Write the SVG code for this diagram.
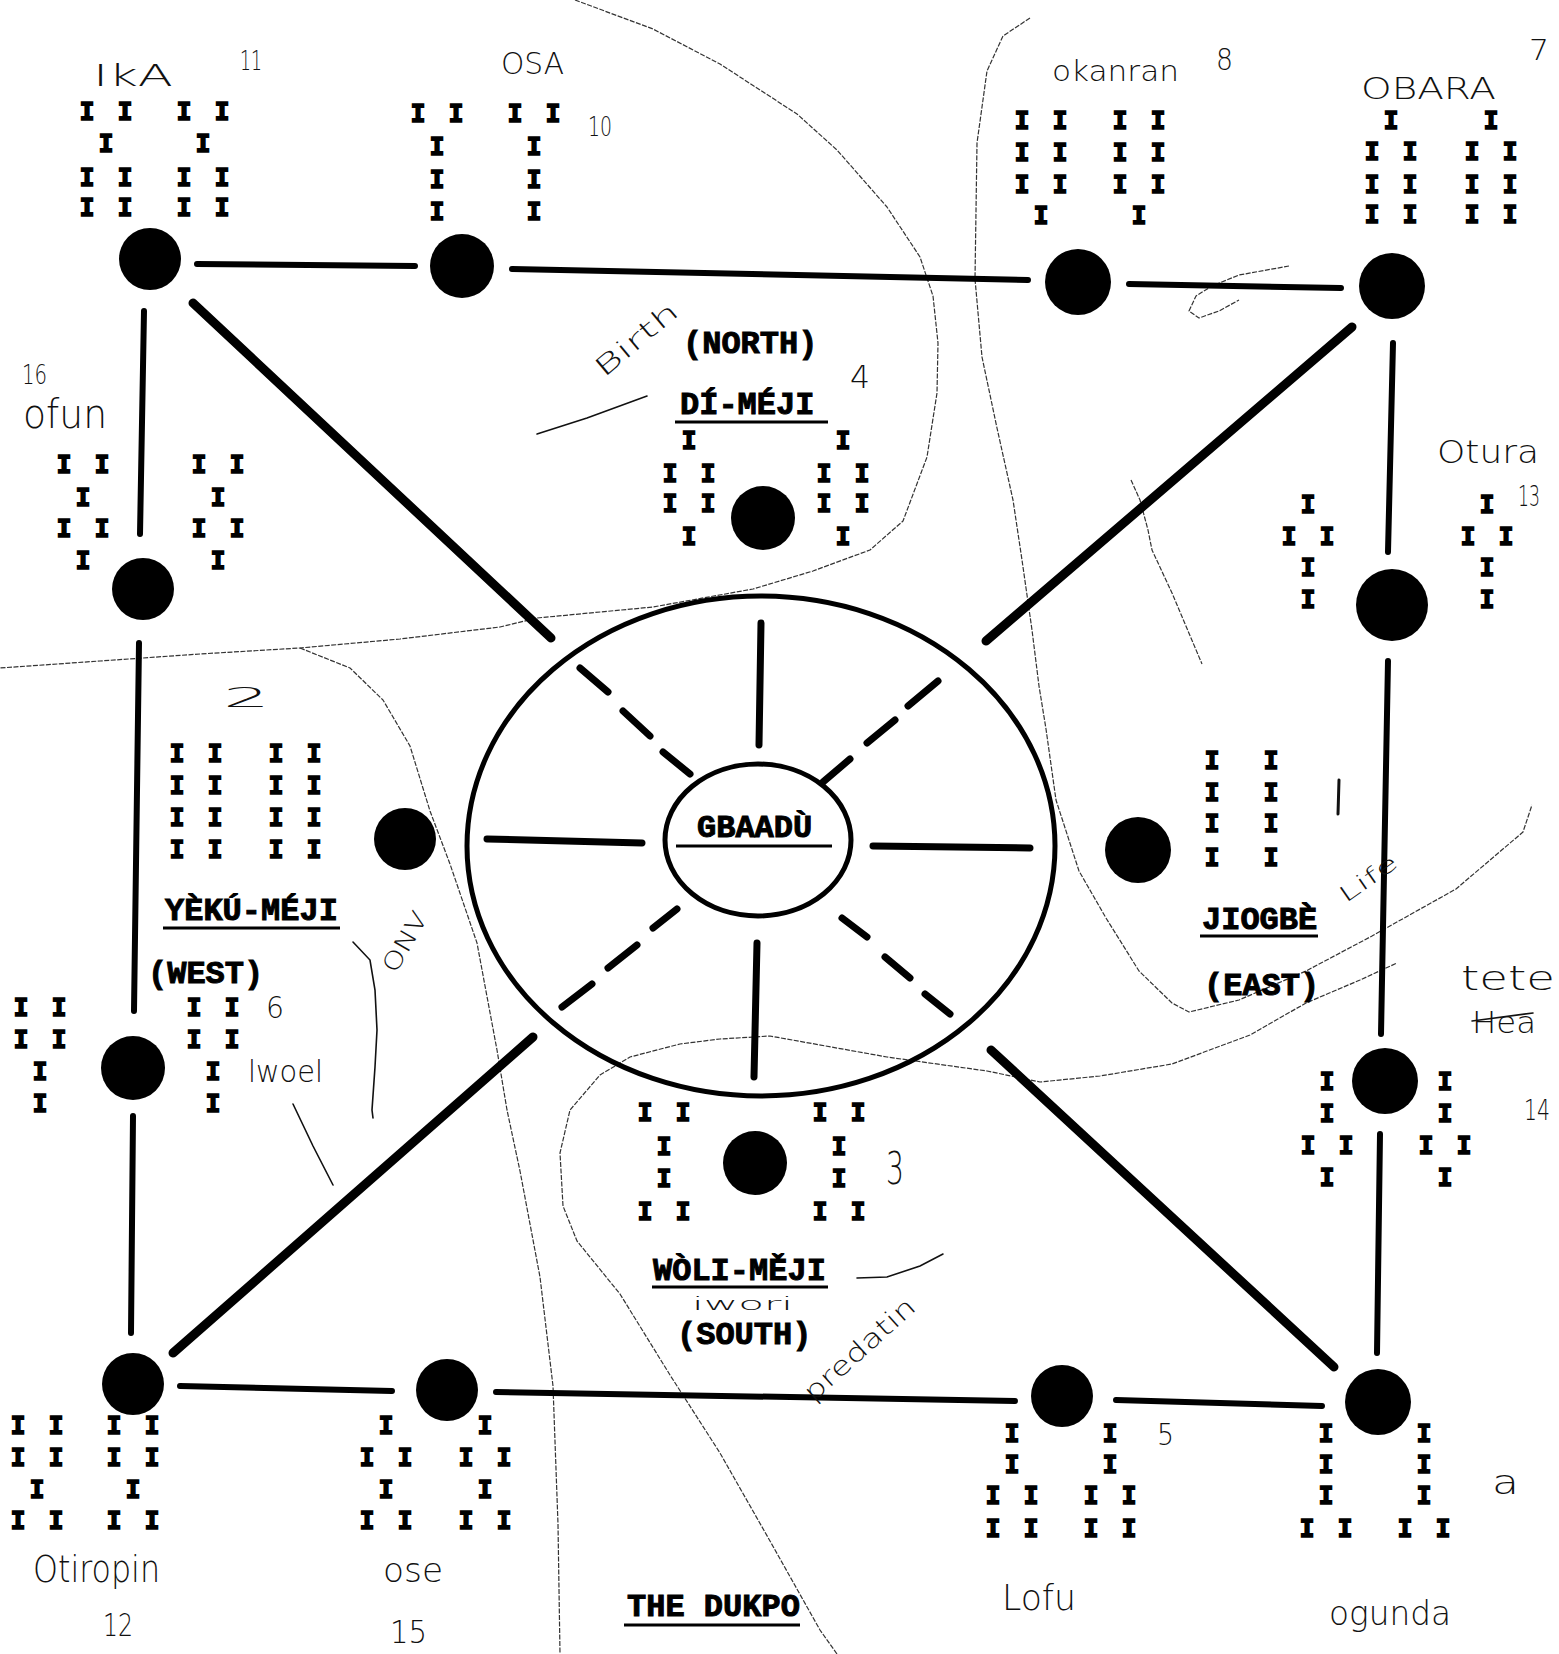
<svg xmlns="http://www.w3.org/2000/svg" width="1559" height="1654" viewBox="0 0 1559 1654">
<style>
.d{fill:#000}
.c{stroke:#000;stroke-linecap:round;fill:none}
.p{stroke-width:6}
.g{stroke-width:9}
.s{stroke-width:7}
.e{fill:none;stroke:#000;stroke-width:5}
.t{font-family:"Liberation Mono","DejaVu Sans Mono",monospace;font-weight:bold;font-size:32px;fill:#000;stroke:#000;stroke-width:1}
.i{font-family:"DejaVu Sans Mono","Liberation Mono",monospace;font-weight:bold;font-size:25px;letter-spacing:4px;fill:#000;stroke:#000;stroke-width:1.6;text-anchor:middle}
.u{stroke:#000;stroke-width:3}
.h{font-family:"DejaVu Sans","Liberation Sans",sans-serif;font-weight:200;fill:#111}
.f{fill:none;stroke:#333;stroke-width:1.2;stroke-dasharray:5 1.5;stroke-linejoin:round}
.k{fill:none;stroke:#111;stroke-width:1.6;stroke-linecap:round}
</style>
<rect width="1559" height="1654" fill="#fff"/>

<g id="hand-curves">
<polyline class="f" points="575,0 653,29 720,64 797,114 837,150 887,207 920,257 933,296 938,343 937,393 927,457 903,521 870,550 813,571 753,589 653,607 537,618 500,627 400,639 300,648 200,654 100,661 0,668"/>
<polyline class="f" points="300,648 350,668 383,700 410,746 430,811 450,864 477,943 497,1050 507,1110 520,1171 540,1277 553,1386 558,1524 560,1654"/>
<polyline class="f" points="1030,18 1003,36 987,71 977,143 975,279 982,357 997,428 1013,500 1022,560 1032,630 1039,686 1046,729 1056,800 1079,871 1106,918 1139,971 1172,1003 1189,1012 1239,1000 1306,971 1372,936 1456,889 1523,832 1532,805"/>
<polyline class="f" points="837,1654 820,1630 770,1541 720,1453 670,1375 620,1294 577,1241 563,1206 560,1153 570,1110 600,1075 630,1057 680,1044 720,1039 770,1036 887,1057 987,1071 1040,1082 1100,1076 1172,1064 1250,1035 1306,1003 1360,980 1397,963"/>
<polyline class="f" points="1131,480 1140,500 1148,530 1152,550 1172,593 1202,664"/>
<polyline class="f" points="1289,266 1239,275 1212,286 1196,296 1189,311 1199,318 1219,311 1239,300"/>
<polyline class="k" points="353,942 370,960 375,990 377,1030 375,1067 372,1110 373,1118"/>
<polyline class="k" points="293,1104 313,1146 333,1185"/>
<polyline class="k" points="537,434 587,418 647,396"/>
<polyline class="k" points="857,1278 887,1277 920,1266 943,1254"/>
</g>

<g id="connectors">
<line class="c p" x1="197" y1="264" x2="415" y2="266"/>
<line class="c p" x1="512" y1="269" x2="1028" y2="280"/>
<line class="c p" x1="1129" y1="284" x2="1341" y2="288"/>
<line class="c p" x1="1393" y1="343" x2="1388" y2="552"/>
<line class="c p" x1="1388" y1="661" x2="1381" y2="1034"/>
<line class="c p" x1="1380" y1="1134" x2="1377" y2="1353"/>
<line class="c p" x1="1116" y1="1400" x2="1322" y2="1406"/>
<line class="c p" x1="496" y1="1392" x2="1015" y2="1401"/>
<line class="c p" x1="180" y1="1386" x2="392" y2="1391"/>
<line class="c p" x1="133" y1="1116" x2="131" y2="1333"/>
<line class="c p" x1="139" y1="643" x2="134" y2="1011"/>
<line class="c p" x1="144" y1="311" x2="140" y2="534"/>
<line class="c g" x1="193" y1="303" x2="551" y2="638"/>
<line class="c g" x1="1352" y1="327" x2="986" y2="641"/>
<line class="c g" x1="991" y1="1050" x2="1334" y2="1367"/>
<line class="c g" x1="533" y1="1037" x2="173" y2="1353"/>
<line class="c s" x1="761" y1="623" x2="759" y2="745"/>
<line class="c s" x1="757" y1="943" x2="754" y2="1077"/>
<line class="c s" x1="487" y1="839" x2="642" y2="843"/>
<line class="c s" x1="873" y1="846" x2="1030" y2="848"/>
<line class="c s" x1="580" y1="668" x2="608" y2="692"/>
<line class="c s" x1="623" y1="711" x2="650" y2="736"/>
<line class="c s" x1="663" y1="752" x2="690" y2="774"/>
<line class="c s" x1="938" y1="681" x2="908" y2="706"/>
<line class="c s" x1="895" y1="720" x2="867" y2="743"/>
<line class="c s" x1="850" y1="759" x2="823" y2="782"/>
<line class="c s" x1="677" y1="909" x2="653" y2="928"/>
<line class="c s" x1="637" y1="945" x2="608" y2="968"/>
<line class="c s" x1="592" y1="984" x2="562" y2="1007"/>
<line class="c s" x1="842" y1="918" x2="867" y2="937"/>
<line class="c s" x1="885" y1="957" x2="910" y2="978"/>
<line class="c s" x1="925" y1="994" x2="950" y2="1014"/>
</g>

<g id="gbaadu">
<ellipse class="e" cx="761" cy="846" rx="294" ry="250"/>
<ellipse class="e" cx="758" cy="840" rx="93" ry="76"/>
<text class="t" x="697" y="837">GBAADÙ</text>
<line class="u" x1="676" y1="846" x2="832" y2="846"/>
</g>

<g id="ika">
<circle class="d" cx="150" cy="259" r="31"/>
<text class="i"><tspan x="108" y="120">I I</tspan><tspan x="108" y="152">I</tspan><tspan x="108" y="186">I I</tspan><tspan x="108" y="216">I I</tspan></text>
<text class="i"><tspan x="205" y="120">I I</tspan><tspan x="205" y="152">I</tspan><tspan x="205" y="186">I I</tspan><tspan x="205" y="216">I I</tspan></text>
<text class="h" x="93" y="86" font-size="30" textLength="80" lengthAdjust="spacingAndGlyphs">IkA</text>
<text class="h" x="240" y="70" font-size="26" textLength="22" lengthAdjust="spacingAndGlyphs">11</text>
</g>

<g id="osa">
<circle class="d" cx="462" cy="266" r="32"/>
<text class="i"><tspan x="439" y="122">I I</tspan><tspan x="439" y="155">I</tspan><tspan x="439" y="188">I</tspan><tspan x="439" y="220">I</tspan></text>
<text class="i"><tspan x="536" y="122">I I</tspan><tspan x="536" y="155">I</tspan><tspan x="536" y="188">I</tspan><tspan x="536" y="220">I</tspan></text>
<text class="h" x="501" y="74" font-size="30" textLength="63" lengthAdjust="spacingAndGlyphs">OSA</text>
<text class="h" x="588" y="136" font-size="26" textLength="24" lengthAdjust="spacingAndGlyphs">10</text>
</g>

<g id="okanran">
<circle class="d" cx="1078" cy="282" r="33"/>
<text class="i"><tspan x="1043" y="129">I I</tspan><tspan x="1043" y="161">I I</tspan><tspan x="1043" y="193">I I</tspan><tspan x="1043" y="224">I</tspan></text>
<text class="i"><tspan x="1141" y="129">I I</tspan><tspan x="1141" y="161">I I</tspan><tspan x="1141" y="193">I I</tspan><tspan x="1141" y="224">I</tspan></text>
<text class="h" x="1052" y="81" font-size="28" textLength="127" lengthAdjust="spacingAndGlyphs">okanran</text>
<text class="h" x="1216" y="70" font-size="30" textLength="17" lengthAdjust="spacingAndGlyphs">8</text>
</g>

<g id="obara">
<circle class="d" cx="1392" cy="286" r="33"/>
<text class="i"><tspan x="1393" y="129">I</tspan><tspan x="1393" y="160">I I</tspan><tspan x="1393" y="193">I I</tspan><tspan x="1393" y="223">I I</tspan></text>
<text class="i"><tspan x="1493" y="129">I</tspan><tspan x="1493" y="160">I I</tspan><tspan x="1493" y="193">I I</tspan><tspan x="1493" y="223">I I</tspan></text>
<text class="h" x="1361" y="99" font-size="30" textLength="135" lengthAdjust="spacingAndGlyphs">OBARA</text>
<text class="h" x="1529" y="60" font-size="28" textLength="20" lengthAdjust="spacingAndGlyphs">7</text>
</g>

<g id="ofun">
<circle class="d" cx="143" cy="589" r="31"/>
<text class="i"><tspan x="85" y="473">I I</tspan><tspan x="85" y="506">I</tspan><tspan x="85" y="537">I I</tspan><tspan x="85" y="569">I</tspan></text>
<text class="i"><tspan x="220" y="473">I I</tspan><tspan x="220" y="506">I</tspan><tspan x="220" y="537">I I</tspan><tspan x="220" y="569">I</tspan></text>
<text class="h" x="22" y="384" font-size="26" textLength="25" lengthAdjust="spacingAndGlyphs">16</text>
<text class="h" x="23" y="428" font-size="40" textLength="84" lengthAdjust="spacingAndGlyphs">ofun</text>
</g>

<g id="yeku-meji">
<circle class="d" cx="405" cy="839" r="31"/>
<text class="i"><tspan x="198" y="762">I I</tspan><tspan x="198" y="794">I I</tspan><tspan x="198" y="826">I I</tspan><tspan x="198" y="858">I I</tspan></text>
<text class="i"><tspan x="297" y="762">I I</tspan><tspan x="297" y="794">I I</tspan><tspan x="297" y="826">I I</tspan><tspan x="297" y="858">I I</tspan></text>
<text class="t" x="165" y="920">YÈKÚ-MÉJI</text>
<line class="u" x1="163" y1="928" x2="340" y2="928"/>
<text class="t" x="148" y="983">(WEST)</text>
<text class="h" x="223" y="707" font-size="26" textLength="47" lengthAdjust="spacingAndGlyphs">2</text>
<text class="h" font-size="24" text-anchor="middle" transform="rotate(-60 405 942)" x="405" y="950" textLength="66" lengthAdjust="spacingAndGlyphs">ONV</text>
</g>

<g id="owonrin">
<circle class="d" cx="133" cy="1068" r="32"/>
<text class="i"><tspan x="42" y="1016">I I</tspan><tspan x="42" y="1048">I I</tspan><tspan x="42" y="1080">I</tspan><tspan x="42" y="1112">I</tspan></text>
<text class="i"><tspan x="215" y="1016">I I</tspan><tspan x="215" y="1048">I I</tspan><tspan x="215" y="1080">I</tspan><tspan x="215" y="1112">I</tspan></text>
<text class="h" x="266" y="1018" font-size="30" textLength="18" lengthAdjust="spacingAndGlyphs">6</text>
<text class="h" x="248" y="1082" font-size="30" textLength="75" lengthAdjust="spacingAndGlyphs">lwoel</text>
</g>

<g id="oturupon">
<circle class="d" cx="133" cy="1384" r="31"/>
<text class="i"><tspan x="39" y="1434">I I</tspan><tspan x="39" y="1466">I I</tspan><tspan x="39" y="1498">I</tspan><tspan x="39" y="1529">I I</tspan></text>
<text class="i"><tspan x="135" y="1434">I I</tspan><tspan x="135" y="1466">I I</tspan><tspan x="135" y="1498">I</tspan><tspan x="135" y="1529">I I</tspan></text>
<text class="h" x="33" y="1582" font-size="38" textLength="127" lengthAdjust="spacingAndGlyphs">Otiropin</text>
<text class="h" x="103" y="1636" font-size="32" textLength="30" lengthAdjust="spacingAndGlyphs">12</text>
</g>

<g id="ose">
<circle class="d" cx="447" cy="1390" r="31"/>
<text class="i"><tspan x="388" y="1434">I</tspan><tspan x="388" y="1466">I I</tspan><tspan x="388" y="1498">I</tspan><tspan x="388" y="1529">I I</tspan></text>
<text class="i"><tspan x="487" y="1434">I</tspan><tspan x="487" y="1466">I I</tspan><tspan x="487" y="1498">I</tspan><tspan x="487" y="1529">I I</tspan></text>
<text class="h" x="383" y="1582" font-size="34" textLength="60" lengthAdjust="spacingAndGlyphs">ose</text>
<text class="h" x="390" y="1643" font-size="32" textLength="37" lengthAdjust="spacingAndGlyphs">15</text>
</g>

<g id="irosun">
<circle class="d" cx="1062" cy="1396" r="31"/>
<text class="i"><tspan x="1014" y="1442">I</tspan><tspan x="1014" y="1473">I</tspan><tspan x="1014" y="1504">I I</tspan><tspan x="1014" y="1537">I I</tspan></text>
<text class="i"><tspan x="1112" y="1442">I</tspan><tspan x="1112" y="1473">I</tspan><tspan x="1112" y="1504">I I</tspan><tspan x="1112" y="1537">I I</tspan></text>
<text class="h" x="1157" y="1445" font-size="30" textLength="17" lengthAdjust="spacingAndGlyphs">5</text>
<text class="h" x="1002" y="1610" font-size="36" textLength="74" lengthAdjust="spacingAndGlyphs">Lofu</text>
</g>

<g id="ogunda">
<circle class="d" cx="1378" cy="1402" r="33"/>
<text class="i"><tspan x="1328" y="1442">I</tspan><tspan x="1328" y="1473">I</tspan><tspan x="1328" y="1504">I</tspan><tspan x="1328" y="1537">I I</tspan></text>
<text class="i"><tspan x="1426" y="1442">I</tspan><tspan x="1426" y="1473">I</tspan><tspan x="1426" y="1504">I</tspan><tspan x="1426" y="1537">I I</tspan></text>
<text class="h" x="1492" y="1494" font-size="34" textLength="27" lengthAdjust="spacingAndGlyphs">a</text>
<text class="h" x="1329" y="1625" font-size="34" textLength="122" lengthAdjust="spacingAndGlyphs">ogunda</text>
</g>

<g id="irete">
<circle class="d" cx="1385" cy="1081" r="33"/>
<text class="i"><tspan x="1329" y="1090">I</tspan><tspan x="1329" y="1122">I</tspan><tspan x="1329" y="1154">I I</tspan><tspan x="1329" y="1186">I</tspan></text>
<text class="i"><tspan x="1447" y="1090">I</tspan><tspan x="1447" y="1122">I</tspan><tspan x="1447" y="1154">I I</tspan><tspan x="1447" y="1186">I</tspan></text>
<text class="h" x="1461" y="990" font-size="34" textLength="94" lengthAdjust="spacingAndGlyphs">tete</text>
<text class="h" x="1472" y="1033" font-size="30" textLength="64" lengthAdjust="spacingAndGlyphs">Hea</text>
<line class="k" x1="1472" y1="1021" x2="1533" y2="1013"/>
<text class="h" x="1524" y="1120" font-size="28" textLength="26" lengthAdjust="spacingAndGlyphs">14</text>
</g>

<g id="otura">
<circle class="d" cx="1392" cy="605" r="36"/>
<text class="i"><tspan x="1310" y="513">I</tspan><tspan x="1310" y="545">I I</tspan><tspan x="1310" y="576">I</tspan><tspan x="1310" y="608">I</tspan></text>
<text class="i"><tspan x="1489" y="513">I</tspan><tspan x="1489" y="545">I I</tspan><tspan x="1489" y="576">I</tspan><tspan x="1489" y="608">I</tspan></text>
<text class="h" x="1437" y="463" font-size="32" textLength="102" lengthAdjust="spacingAndGlyphs">Otura</text>
<text class="h" x="1518" y="506" font-size="28" textLength="22" lengthAdjust="spacingAndGlyphs">13</text>
</g>

<g id="jiogbe">
<circle class="d" cx="1138" cy="850" r="33"/>
<text class="i"><tspan x="1214" y="769">I</tspan><tspan x="1214" y="801">I</tspan><tspan x="1214" y="832">I</tspan><tspan x="1214" y="866">I</tspan></text>
<text class="i"><tspan x="1273" y="769">I</tspan><tspan x="1273" y="801">I</tspan><tspan x="1273" y="832">I</tspan><tspan x="1273" y="866">I</tspan></text>
<text class="t" x="1202" y="929">JIOGBÈ</text>
<line class="u" x1="1200" y1="936" x2="1318" y2="936"/>
<text class="t" x="1204" y="995">(EAST)</text>
<line class="k" x1="1339" y1="780" x2="1338" y2="814" style="stroke-width:3"/>
<text class="h" font-size="22" text-anchor="middle" transform="rotate(-35 1368 878)" x="1368" y="886" textLength="66" lengthAdjust="spacingAndGlyphs">Life</text>
</g>

<g id="di-meji">
<circle class="d" cx="763" cy="518" r="32"/>
<text class="i"><tspan x="691" y="449">I</tspan><tspan x="691" y="482">I I</tspan><tspan x="691" y="512">I I</tspan><tspan x="691" y="545">I</tspan></text>
<text class="i"><tspan x="845" y="449">I</tspan><tspan x="845" y="482">I I</tspan><tspan x="845" y="512">I I</tspan><tspan x="845" y="545">I</tspan></text>
<text class="t" x="680" y="414">DÍ-MÉJI</text>
<line class="u" x1="675" y1="422" x2="828" y2="422"/>
<text class="t" x="683" y="353">(NORTH)</text>
<text class="h" x="850" y="388" font-size="32" textLength="20" lengthAdjust="spacingAndGlyphs">4</text>
<text class="h" font-size="26" text-anchor="middle" transform="rotate(-40 637 340)" x="637" y="348" textLength="100" lengthAdjust="spacingAndGlyphs">Birth</text>
</g>

<g id="woli-meji">
<circle class="d" cx="755" cy="1163" r="32"/>
<text class="i"><tspan x="666" y="1121">I I</tspan><tspan x="666" y="1155">I</tspan><tspan x="666" y="1187">I</tspan><tspan x="666" y="1220">I I</tspan></text>
<text class="i"><tspan x="841" y="1121">I I</tspan><tspan x="841" y="1155">I</tspan><tspan x="841" y="1187">I</tspan><tspan x="841" y="1220">I I</tspan></text>
<text class="t" x="653" y="1280">WÒLI-MĚJI</text>
<line class="u" x1="652" y1="1287" x2="828" y2="1287"/>
<text class="t" x="677" y="1344">(SOUTH)</text>
<text class="h" x="692" y="1310" font-size="18" textLength="101" lengthAdjust="spacingAndGlyphs">iwori</text>
<text class="h" x="886" y="1184" font-size="44" textLength="18" lengthAdjust="spacingAndGlyphs">3</text>
<text class="h" font-size="26" text-anchor="middle" transform="rotate(-42 860 1350)" x="860" y="1358" textLength="140" lengthAdjust="spacingAndGlyphs">predatin</text>
</g>

<g id="title">
<text class="t" x="627" y="1616">THE DUKPO</text>
<line class="u" x1="624" y1="1625" x2="800" y2="1625"/>
</g>
</svg>
